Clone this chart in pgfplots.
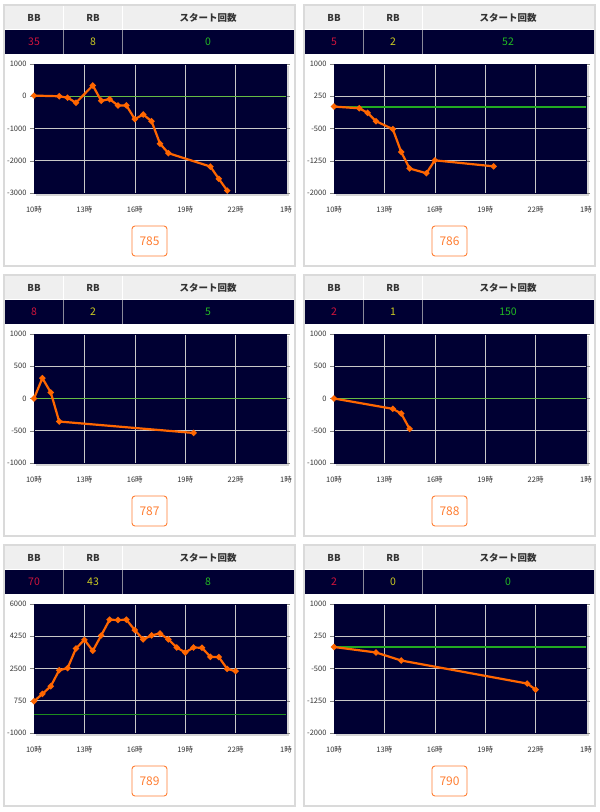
\documentclass[border=0pt]{standalone}
\usepackage{fontspec}
\setmainfont{Noto Sans CJK JP}
\usepackage{pgfplots}
\pgfplotsset{compat=1.18}
\definecolor{navybg}{HTML}{000033}
\definecolor{headc}{HTML}{EFEFEF}
\definecolor{framec}{HTML}{DADADA}
\definecolor{sepc}{HTML}{8A8A9A}
\definecolor{headtext}{HTML}{333333}
\definecolor{bbc}{HTML}{D0143C}
\definecolor{rbc}{HTML}{CCCC22}
\definecolor{stc}{HTML}{22BB22}
\definecolor{btnc}{HTML}{FF7F33}
\definecolor{shadowc}{HTML}{D4D4D4}
\definecolor{gridc}{HTML}{C8C8C8}
\definecolor{labc}{HTML}{333333}
\definecolor{orangec}{HTML}{FF6600}
\definecolor{gA}{HTML}{66BB44}
\definecolor{gB}{HTML}{22AA22}
\definecolor{gC}{HTML}{1E8C1E}
\newcommand\headfont{\fontsize{9.5}{10}\selectfont\bfseries}
\newcommand\valfont{\fontsize{10.5}{11}\selectfont}
\newcommand\panel[6]{%
  \begin{scope}[shift={(#1pt,-#2pt)}, x=1pt, y=-1pt]
    \draw[draw=framec, line width=1.2pt, fill=white] (4,5) rectangle (295,266);
    \fill[headc] (5,6) rectangle (294,29);
    \draw[white, line width=1pt] (63,6)--(63,29) (122,6)--(122,29);
    \fill[navybg] (5,30) rectangle (294,54);
    \draw[sepc, line width=0.6pt] (63,30)--(63,54) (122,30)--(122,54);
    \node[font=\headfont, text=headtext] at (34,17.5) {BB};
    \node[font=\headfont, text=headtext] at (93,17.5) {RB};
    \node[font=\headfont, text=headtext] at (208,17.5) {スタート回数};
    \node[font=\valfont, text=bbc] at (34,42) {#3};
    \node[font=\valfont, text=rbc] at (93,42) {#4};
    \node[font=\valfont, text=stc] at (208,42) {#5};
    \fill[shadowc] (36,66) rectangle (289,196);
    \draw[btnc, line width=0.9pt, rounded corners=3pt, fill=white] (132,226) rectangle (167,256);
    \node[text=btnc, font=\fontsize{12}{13}\selectfont] at (149.5,241) {#6};
  \end{scope}}
\pgfplotsset{
  panelaxis/.style={
    scale only axis, width=252pt, height=129pt, anchor=south west,
    xmin=0, xmax=15, xtick={0,3,...,15},
    xticklabels={10時,13時,16時,19時,22時,1時},
    axis background/.style={fill=navybg},
    grid=major, major grid style={draw=gridc, line width=0.6pt},
    axis line style={draw=navybg},
    tick align=outside, major tick length=4pt,
    ytick style={draw=gray, line width=0.5pt},
    xtick style={draw=none},
    ticklabel style={font=\fontsize{7.5}{8}\selectfont, text=labc},
    xticklabel style={yshift=-6pt},
    /pgf/number format/assume math mode=true,
    /pgf/number format/fixed, /pgf/number format/1000 sep={},
  },
  ser/.style={color=orangec, line width=2.2pt, mark=*, mark size=1.8pt, mark options={fill=orangec, solid}},
}
\begin{document}
\begin{tikzpicture}
\fill[white] (0,0) rectangle (600pt,-812pt);
\useasboundingbox (0,0) rectangle (600pt,-812pt);
\panel{0}{0}{35}{8}{0}{785}
\panel{300}{0}{5}{2}{52}{786}
\panel{0}{270}{8}{2}{5}{787}
\panel{300}{270}{2}{1}{150}{788}
\panel{0}{540}{70}{43}{8}{789}
\panel{300}{540}{2}{0}{0}{790}

\begin{axis}[panelaxis, at={(34pt,-193pt)}, ymin=-3000, ymax=1000, ytick={-3000,-2000,...,1000}]
\addplot[gA, line width=1.3pt] coordinates {(0,0)(15,0)};
\addplot[ser] coordinates {(0,20)(1.5,0)(2,-45)(2.5,-200)(3.5,335)(4,-140)(4.5,-90)(5,-285)(5.5,-285)(6,-710)(6.5,-565)(7,-775)(7.5,-1470)(8,-1765)(10.5,-2180)(11,-2560)(11.5,-2925)};
\end{axis}

\begin{axis}[panelaxis, at={(334pt,-193pt)}, ymin=-2000, ymax=1000, ytick={-2000,-1250,-500,250,1000}]
\addplot[gB, line width=1.1pt] coordinates {(0,0)(15,0)};
\addplot[ser] coordinates {(0,10)(1.5,-30)(2,-135)(2.5,-330)(3.5,-515)(4,-1045)(4.5,-1430)(5.5,-1540)(6,-1240)(9.5,-1380)};
\end{axis}

\begin{axis}[panelaxis, at={(34pt,-463pt)}, ymin=-1000, ymax=1000, ytick={-1000,-500,...,1000}]
\addplot[gA, line width=1.3pt] coordinates {(0,0)(15,0)};
\addplot[ser] coordinates {(0,0)(0.5,316)(1,93)(1.5,-357)(9.5,-534)};
\end{axis}

\begin{axis}[panelaxis, at={(334pt,-463pt)}, ymin=-1000, ymax=1000, ytick={-1000,-500,...,1000}]
\addplot[gA, line width=1.3pt] coordinates {(0,0)(15,0)};
\addplot[ser] coordinates {(0,0)(3.5,-160)(4,-233)(4.5,-471)};
\end{axis}

\begin{axis}[panelaxis, at={(34pt,-733pt)}, ymin=-1000, ymax=6000, ytick={-1000,750,2500,4250,6000}]
\addplot[gC, line width=1.3pt] coordinates {(0,0)(15,0)};
\addplot[ser] coordinates {(0,720)(0.5,1120)(1,1540)(1.5,2410)(2,2520)(2.5,3590)(3,4060)(3.5,3460)(4,4295)(4.5,5150)(5,5130)(5.5,5150)(6,4585)(6.5,4080)(7,4295)(7.5,4405)(8,4080)(8.5,3640)(9,3370)(9.5,3640)(10,3625)(10.5,3135)(11,3120)(11.5,2480)(12,2355)};
\end{axis}

\begin{axis}[panelaxis, at={(334pt,-733pt)}, ymin=-2000, ymax=1000, ytick={-2000,-1250,-500,250,1000}]
\addplot[gB, line width=1.1pt] coordinates {(0,0)(15,0)};
\addplot[ser] coordinates {(0,0)(2.5,-127)(4,-314)(11.5,-850)(12,-990)};
\end{axis}
\end{tikzpicture}
\end{document}
